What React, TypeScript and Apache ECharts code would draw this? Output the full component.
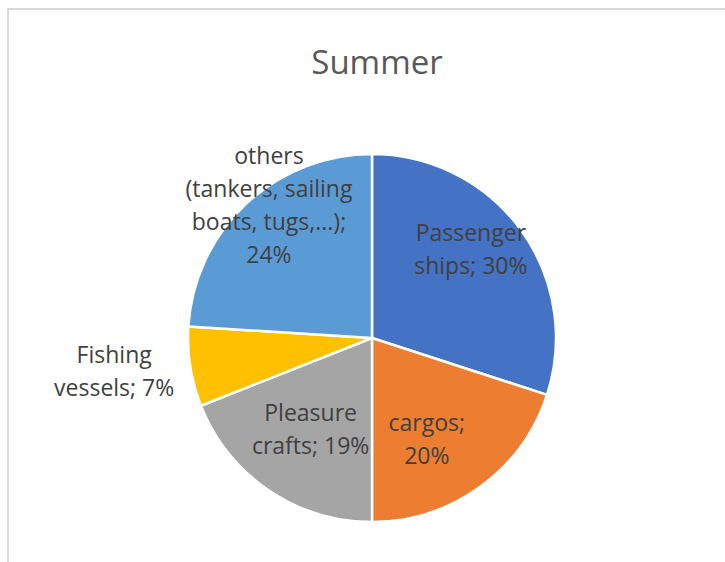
import React, { useEffect, useRef } from "react";
import * as echarts from "echarts";

const title = "Summer";
const categories = [
  "Passenger ships",
  "cargos",
  "Pleasure crafts",
  "Fishing vessels",
  "others (tankers, sailing boats, tugs,...)",
];
const values = [30, 20, 19, 7, 24];
const colors = ["#4472C4", "#ED7D31", "#A5A5A5", "#FFC000", "#5B9BD5"];
// wrapped label text, as shown in the chart
const labelTexts = [
  "Passenger\nships; 30%",
  "cargos;\n20%",
  "Pleasure\ncrafts; 19%",
  "Fishing\nvessels; 7%",
  "others\n(tankers, sailing\nboats, tugs,...);\n24%",
];

const labelShift: [number, number][] = [
  [22, -34],
  [-1, 24],
  [-8, 12],
  [-164, 18],
  [-38, -64],
];

export default function App() {
  const ref = useRef<HTMLDivElement>(null);
  useEffect(() => {
    if (!ref.current) return;
    const chart = echarts.init(ref.current, undefined, { renderer: "svg" });
    chart.setOption({
      animation: false,
      backgroundColor: "#ffffff",
      title: {
        text: title,
        left: 372,
        top: 40,
        textAlign: "center",
        textStyle: {
          fontFamily: "Open Sans",
          fontSize: 33,
          fontWeight: "normal",
          color: "#595959",
        },
      },
      graphic: [
        {
          type: "rect",
          shape: { x: 8, y: 9, width: 800, height: 700 },
          style: { fill: "none", stroke: "#d9d9d9", lineWidth: 2 },
          silent: true,
        },
      ],
      series: [
        {
          type: "pie",
          center: [372, 338],
          radius: 184,
          startAngle: 90,
          clockwise: true,
          itemStyle: { borderColor: "#ffffff", borderWidth: 2.5 },
          label: {
            show: true,
            position: "inside",
            fontFamily: "Open Sans",
            fontSize: 23,
            lineHeight: 33,
            color: "#404040",
            align: "center",
            formatter: (p: any) => labelTexts[p.dataIndex],
          },
          labelLine: { show: false },
          labelLayout: (p: any) => ({
            dx: labelShift[p.dataIndex][0],
            dy: labelShift[p.dataIndex][1],
          }),
          emphasis: { disabled: true },
          data: categories.map((c, i) => ({
            name: c,
            value: values[i],
            itemStyle: { color: colors[i] },
          })),
        },
      ],
    });
    return () => chart.dispose();
  }, []);
  return (
    <div
      ref={ref}
      style={{ position: "fixed", left: 0, top: 0, width: 725, height: 562 }}
    />
  );
}
